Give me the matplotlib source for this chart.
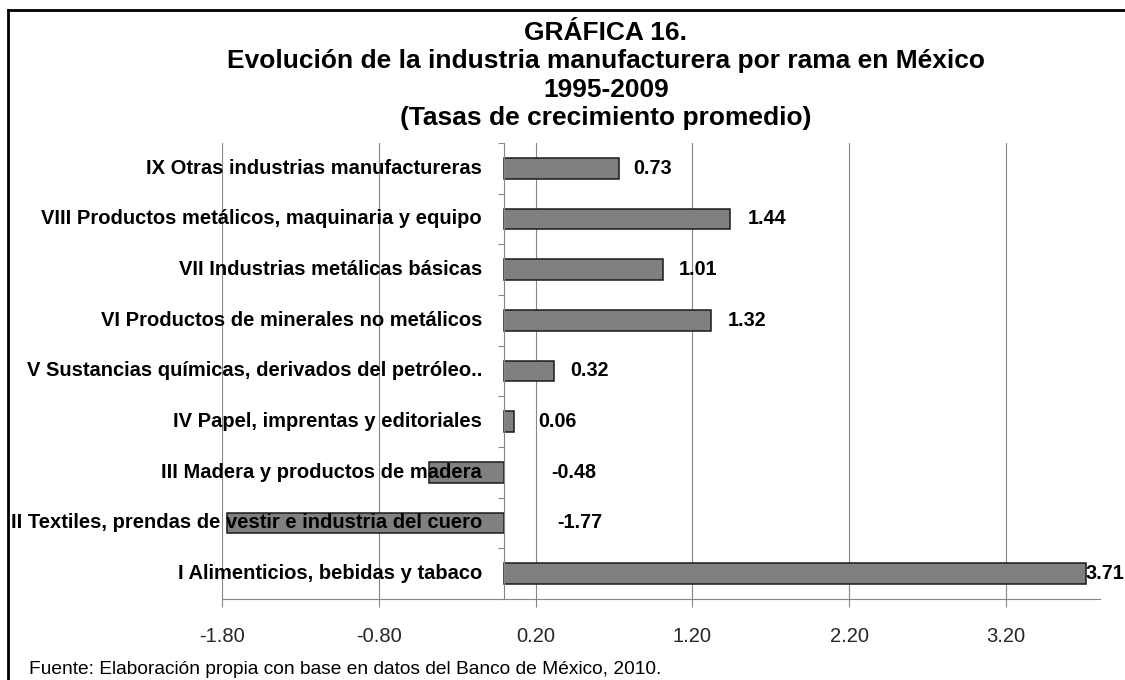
import matplotlib

matplotlib.use("Agg")

import matplotlib.pyplot as plt
from matplotlib.lines import Line2D
from matplotlib.ticker import FixedLocator, FormatStrFormatter

plt.rcParams["font.family"] = ["Liberation Sans", "DejaVu Sans"]

# data, bottom to top as drawn
categories = [
    "I Alimenticios, bebidas y tabaco",
    "II Textiles, prendas de vestir e industria del cuero",
    "III Madera y productos de madera",
    "IV Papel, imprentas y editoriales",
    "V Sustancias químicas, derivados del petróleo..",
    "VI Productos de minerales no metálicos",
    "VII Industrias metálicas básicas",
    "VIII Productos metálicos, maquinaria y equipo",
    "IX Otras industrias manufactureras",
]
growth = [3.71, -1.77, -0.48, 0.06, 0.32, 1.32, 1.01, 1.44, 0.73]
x_ticks = [-1.80, -0.80, 0.20, 1.20, 2.20, 3.20]

title_lines = [
    "GRÁFICA 16.",
    "Evolución de la industria manufacturera por rama en México",
    "1995-2009",
    "(Tasas de crecimiento promedio)",
]
source = "Fuente: Elaboración propia con base en datos del Banco de México, 2010."

# label nudges in pixels, measured from the end of each bar (or from zero for negatives)
label_pad_px = [0, 53, 47, 25, 16, 17, 16, 18, 15]

W, H = 1125, 680
GRID = "#868686"

fig = plt.figure(figsize=(W / 100, H / 100), dpi=100)
ax = fig.add_axes([222 / W, 1 - 599 / H, (1100 - 222) / W, (599 - 143) / H])

ypos = list(range(len(categories)))
ax.barh(ypos, growth, height=0.41, color="#808080", edgecolor="#1a1a1a",
        linewidth=1.1, zorder=2)

ax.set_xlim(-1.8, 3.8)
ax.set_ylim(-0.5, len(categories) - 0.5)
ax.xaxis.set_major_locator(FixedLocator(x_ticks))
ax.xaxis.set_major_formatter(FormatStrFormatter("%.2f"))
ax.tick_params(axis="x", direction="out", length=6, width=0.8, color=GRID,
               pad=14, labelsize=14.5, labelcolor="#262626")
ax.grid(axis="x", color=GRID, linewidth=0.8, zorder=0)
ax.set_axisbelow(True)

for side in ("top", "right"):
    ax.spines[side].set_visible(False)
ax.spines["bottom"].set_color(GRID)
ax.spines["bottom"].set_linewidth(0.8)
ax.spines["left"].set_position(("data", 0))
ax.spines["left"].set_color(GRID)
ax.spines["left"].set_linewidth(0.8)
ax.spines["left"].set_zorder(3)

ax.set_yticks([])
ax.yaxis.set_minor_locator(FixedLocator([i - 0.5 for i in range(len(categories) + 1)]))
ax.tick_params(axis="y", which="minor", direction="out", length=4, width=0.8, color=GRID)

for y, name in zip(ypos, categories):
    ax.annotate(name, xy=(0, y), xytext=(-16, 0), textcoords="offset points",
                ha="right", va="center", fontsize=14.5, fontweight="bold",
                color="black", zorder=5, annotation_clip=False)

for y, v, pad in zip(ypos, growth, label_pad_px):
    ax.annotate(f"{v:.2f}", xy=(max(v, 0), y), xytext=(pad * 0.72, 0),
                textcoords="offset points", ha="left", va="center",
                fontsize=14.2, fontweight="bold", color="black", zorder=5,
                annotation_clip=False)

title_y = [33, 61, 90, 118]
for line, yy in zip(title_lines, title_y):
    fig.text(606 / W, 1 - yy / H, line, ha="center", va="center",
             fontsize=19, fontweight="bold")

fig.text(29 / W, 1 - 670 / H, source, ha="left", va="center", fontsize=13.8)

# frame of the original chart object: only top and left edges fall inside the picture
fig.add_artist(Line2D([8 / W, 1.0], [1 - 10 / H, 1 - 10 / H], color="black", linewidth=2))
fig.add_artist(Line2D([8 / W, 8 / W], [0.0, 1 - 10 / H], color="black", linewidth=2))

fig.savefig("out.png", dpi=100, facecolor="white")
